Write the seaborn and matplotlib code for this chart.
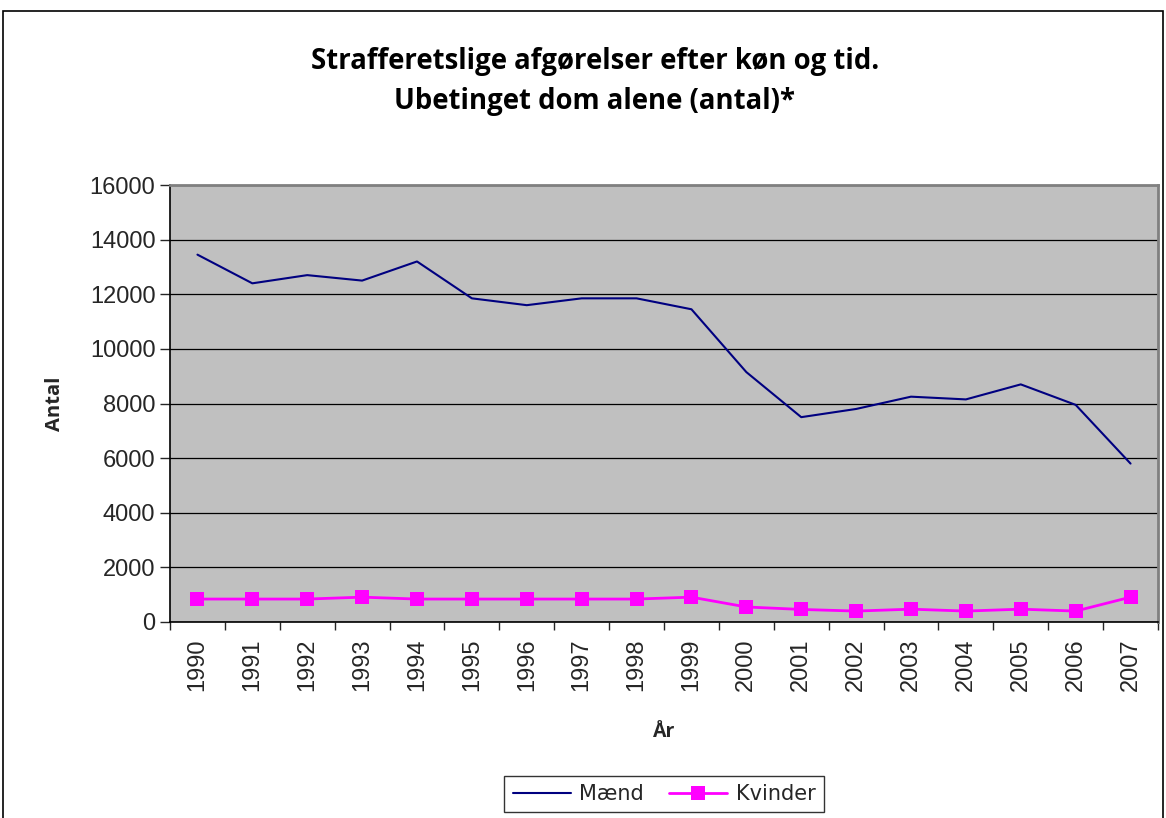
import matplotlib
matplotlib.use("Agg")
import matplotlib.pyplot as plt
import seaborn as sns
import numpy as np
import pandas as pd
from matplotlib.patches import Rectangle

years = [str(y) for y in range(1990, 2008)]
maend = [13450, 12400, 12700, 12500, 13200, 11850, 11600, 11850, 11850, 11450,
         9150, 7500, 7800, 8250, 8150, 8700, 7950, 5800]
kvinder = [840, 840, 840, 910, 840, 840, 840, 840, 840, 910,
           550, 460, 400, 470, 400, 470, 400, 910]

df = pd.DataFrame({"pos": np.arange(len(years)), "Mænd": maend, "Kvinder": kvinder})

sns.set_style("white")
plt.rcParams["font.family"] = ["Liberation Sans", "DejaVu Sans"]

fig = plt.figure(figsize=(11.66, 8.18), dpi=100)
ax = fig.add_axes([170 / 1166, 1 - 622 / 818, 988 / 1166, 437 / 818])
ax.set_facecolor("#C0C0C0")

sns.lineplot(data=df, x="pos", y="Mænd", ax=ax, color="#000080", linewidth=1.5,
             label="Mænd")
sns.lineplot(data=df, x="pos", y="Kvinder", ax=ax, color="#FF00FF", linewidth=2,
             marker="s", markersize=10, markeredgewidth=0, label="Kvinder")

ax.set_xlim(-0.5, len(years) - 0.5)
ax.set_ylim(0, 16000)
ax.set_yticks(np.arange(0, 16001, 2000))
ax.yaxis.grid(True, color="black", linewidth=0.9)
ax.set_axisbelow(True)
ax.tick_params(axis="y", labelsize=17, length=7, width=1, direction="out", left=True)

ax.set_xticks(np.arange(len(years)))
ax.set_xticklabels(years, rotation=90, fontsize=17)
ax.set_xticks(np.arange(-0.5, len(years)), minor=True)
ax.tick_params(axis="x", which="major", length=0, pad=12)
ax.tick_params(axis="x", which="minor", length=6, width=1, direction="out", bottom=True)

for side in ["left", "bottom"]:
    ax.spines[side].set_color("black")
    ax.spines[side].set_linewidth(1.2)
for side in ["top", "right"]:
    ax.spines[side].set_visible(True)
    ax.spines[side].set_color("#808080")
    ax.spines[side].set_linewidth(2)

ax.set_xlabel("År", fontsize=14, fontweight="bold", family="Open Sans", labelpad=22)
ax.set_ylabel("Antal", fontsize=14.5, fontweight="bold", family="Open Sans", labelpad=18)

title_x = 595 / 1166
fig.text(title_x, 1 - 62 / 818, "Strafferetslige afgørelser efter køn og tid.",
         ha="center", va="center", fontsize=19.8, fontweight="bold", family="Open Sans",
         color="black")
fig.text(title_x, 1 - 101 / 818, "Ubetinget dom alene (antal)*",
         ha="center", va="center", fontsize=19.8, fontweight="bold", family="Open Sans",
         color="black")

leg = ax.legend(loc="center", bbox_to_anchor=(664 / 1166, 1 - 794 / 818),
                bbox_transform=fig.transFigure, ncol=2, frameon=True, fancybox=False,
                prop={"family": "DejaVu Sans", "size": 15}, handlelength=2.8,
                columnspacing=1.2, borderpad=0.4, handletextpad=0.4)
leg.get_frame().set_edgecolor("black")
leg.get_frame().set_linewidth(1)

fig.patches.append(Rectangle((3 / 1166, -0.05), 1160 / 1166, 1.05 - 11 / 818,
                             transform=fig.transFigure, fill=False,
                             edgecolor="black", linewidth=1.2))

fig.savefig("out.png", dpi=100)
